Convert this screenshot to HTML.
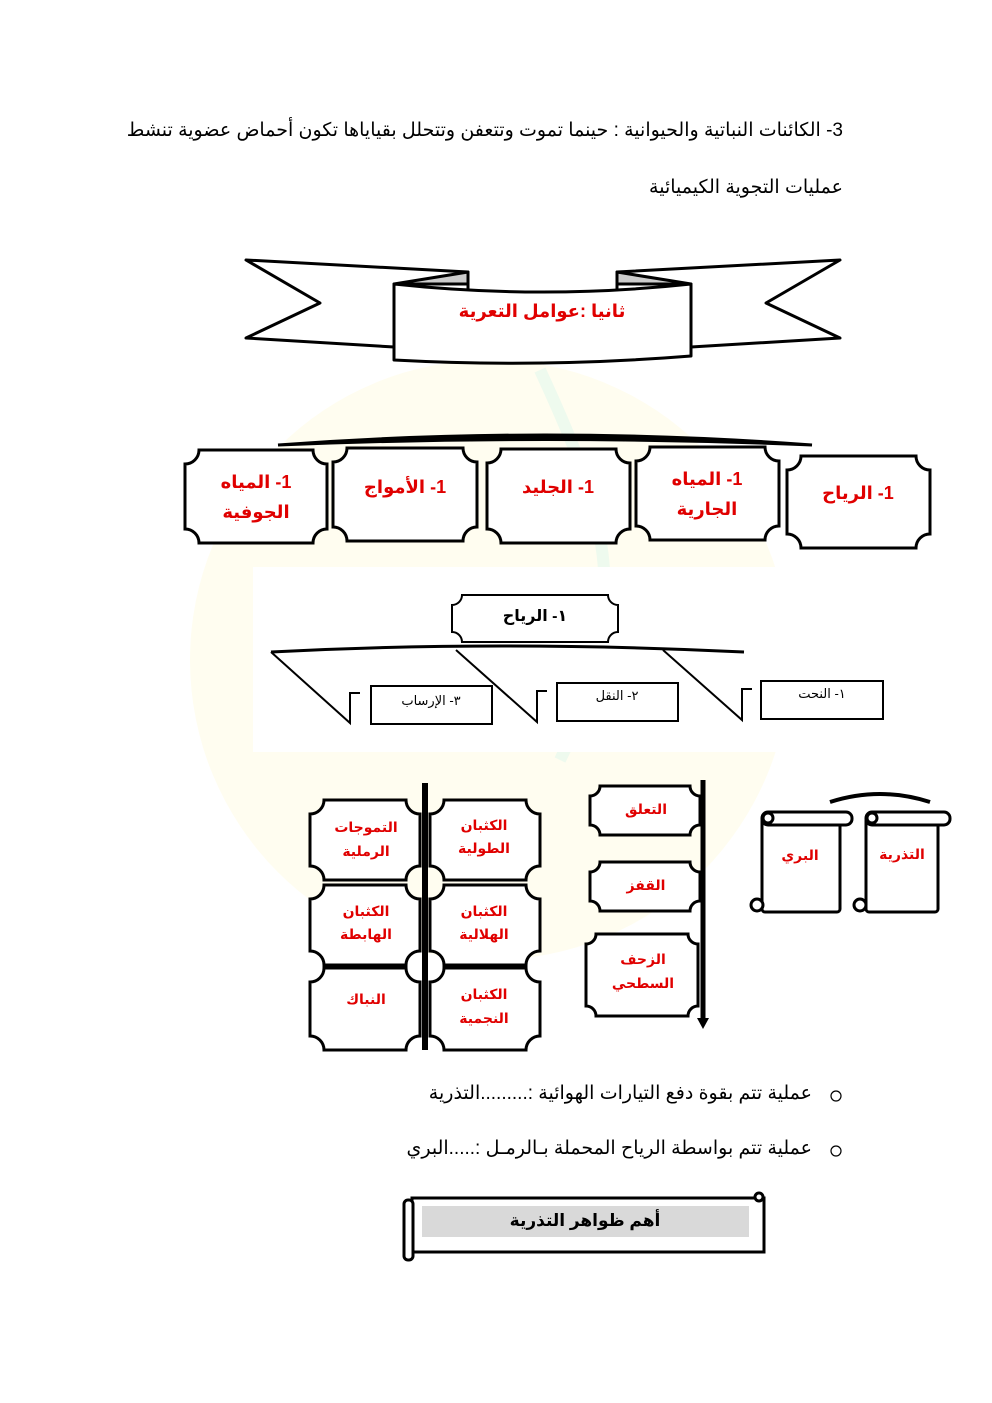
<!DOCTYPE html>
<html><head><meta charset="utf-8"><style>
html,body{margin:0;padding:0;background:#fff;}
body{width:992px;height:1403px;position:relative;overflow:hidden;font-family:"Liberation Sans","DejaVu Sans",sans-serif;}
svg{position:absolute;left:0;top:0;}
.t{position:absolute;direction:rtl;text-align:right;white-space:nowrap;font-size:19px;color:#000;line-height:24px;}
</style></head><body>
<svg width="992" height="1403" viewBox="0 0 992 1403" xmlns="http://www.w3.org/2000/svg" font-family="Liberation Sans, DejaVu Sans, sans-serif">
<circle cx="490" cy="660" r="300" fill="#fffdf0"/>
<path d="M540 370 C600 500 640 600 560 760" stroke="#eefaee" stroke-width="12" fill="none"/>

<g stroke="#000" stroke-width="3" fill="#fff" stroke-linejoin="round">
<path d="M246 260 L468 272 L468 290 L394 290 L394 347 L246 338 L320 303 Z"/>
<path d="M840 260 L617 272 L617 290 L691 290 L691 347 L840 338 L766 303 Z"/>
<path d="M468 272 L468 284 L394 284 Z" fill="#ccc"/>
<path d="M617 272 L617 284 L691 284 Z" fill="#ccc"/>
<path d="M394 284 Q542 300 691 284 L691 356 Q542 368 394 360 Z"/>
</g>
<text x="542" y="317" text-anchor="middle" font-size="18" font-weight="bold" fill="#e00000" direction="rtl">ثانيا :عوامل التعرية</text>

<path d="M278 445 Q545 425 812 445 Q545 434 278 445 Z" stroke="#000" stroke-width="3" fill="#000"/>
<g stroke="#000" stroke-width="3" fill="#fff">
<path d="M199,450 H313 A14 14 0 0 0 327,464 V529 A14 14 0 0 0 313,543 H199 A14 14 0 0 0 185,529 V464 A14 14 0 0 0 199,450 Z"/>
<path d="M347,448 H463 A14 14 0 0 0 477,462 V527 A14 14 0 0 0 463,541 H347 A14 14 0 0 0 333,527 V462 A14 14 0 0 0 347,448 Z"/>
<path d="M501,449 H616 A14 14 0 0 0 630,463 V529 A14 14 0 0 0 616,543 H501 A14 14 0 0 0 487,529 V463 A14 14 0 0 0 501,449 Z"/>
<path d="M650,447 H765 A14 14 0 0 0 779,461 V526 A14 14 0 0 0 765,540 H650 A14 14 0 0 0 636,526 V461 A14 14 0 0 0 650,447 Z"/>
<path d="M801,456 H916 A14 14 0 0 0 930,470 V534 A14 14 0 0 0 916,548 H801 A14 14 0 0 0 787,534 V470 A14 14 0 0 0 801,456 Z"/>
</g>
<g font-size="18" font-weight="bold" fill="#e00000" text-anchor="middle" direction="rtl">
<text x="256" y="488">1- المياه</text><text x="256" y="518">الجوفية</text>
<text x="405" y="493">1- الأمواج</text>
<text x="558" y="493">1- الجليد</text>
<text x="707" y="485">1- المياه</text><text x="707" y="515">الجارية</text>
<text x="858" y="499">1- الرياح</text>
</g>

<rect x="253" y="567" width="537" height="185" fill="#fff"/>
<g stroke="#000" stroke-width="2" fill="#fff">
<path d="M462,595 H608 A10 10 0 0 0 618,605 V632 A10 10 0 0 0 608,642 H462 A10 10 0 0 0 452,632 V605 A10 10 0 0 0 462,595 Z"/>
<path d="M271 652 Q500 640 744 652" fill="none" stroke-width="3"/>
<path d="M271 652 L350 723 L350 693 L360 693" fill="none"/>
<path d="M456 650 L537 722 L537 691 L547 691" fill="none"/>
<path d="M663 650 L742 720 L742 689 L752 689" fill="none"/>
<rect x="371" y="686" width="121" height="38"/>
<rect x="557" y="683" width="121" height="38"/>
<rect x="761" y="681" width="122" height="38"/>
</g>
<text x="535" y="621" font-weight="bold" text-anchor="middle" font-size="16" direction="rtl">١- الرياح</text>
<g text-anchor="middle" font-size="13" direction="rtl">
<text x="431" y="705">٣- الإرساب</text>
<text x="617" y="700">٢- النقل</text>
<text x="822" y="698">١- النحت</text>
</g>

<g stroke="#000" stroke-width="3" fill="#fff">
<path d="M324,800 H406 A14 14 0 0 0 420,814 V866 A14 14 0 0 0 406,880 H324 A14 14 0 0 0 310,866 V814 A14 14 0 0 0 324,800 Z"/>
<path d="M324,885 H406 A14 14 0 0 0 420,899 V951 A14 14 0 0 0 406,965 H324 A14 14 0 0 0 310,951 V899 A14 14 0 0 0 324,885 Z"/>
<path d="M324,968 H406 A14 14 0 0 0 420,982 V1036 A14 14 0 0 0 406,1050 H324 A14 14 0 0 0 310,1036 V982 A14 14 0 0 0 324,968 Z"/>
<path d="M444,800 H526 A14 14 0 0 0 540,814 V866 A14 14 0 0 0 526,880 H444 A14 14 0 0 0 430,866 V814 A14 14 0 0 0 444,800 Z"/>
<path d="M444,885 H526 A14 14 0 0 0 540,899 V951 A14 14 0 0 0 526,965 H444 A14 14 0 0 0 430,951 V899 A14 14 0 0 0 444,885 Z"/>
<path d="M444,968 H526 A14 14 0 0 0 540,982 V1036 A14 14 0 0 0 526,1050 H444 A14 14 0 0 0 430,1036 V982 A14 14 0 0 0 444,968 Z"/>
</g>
<line x1="425" y1="783" x2="425" y2="1050" stroke="#000" stroke-width="6"/>
<g font-size="14" font-weight="bold" fill="#e00000" text-anchor="middle">
<text x="366" y="832">التموجات</text><text x="366" y="856">الرملية</text>
<text x="484" y="830">الكثبان</text><text x="484" y="853">الطولية</text>
<text x="366" y="916">الكثبان</text><text x="366" y="939">الهابطة</text>
<text x="484" y="916">الكثبان</text><text x="484" y="939">الهلالية</text>
<text x="366" y="1004">النباك</text>
<text x="484" y="999">الكثبان</text><text x="484" y="1023">النجمية</text>
</g>

<g stroke="#000" stroke-width="3" fill="#fff">
<path d="M600,786 H690 A10 10 0 0 0 700,796 V825 A10 10 0 0 0 690,835 H600 A10 10 0 0 0 590,825 V796 A10 10 0 0 0 600,786 Z"/>
<path d="M600,862 H690 A10 10 0 0 0 700,872 V901 A10 10 0 0 0 690,911 H600 A10 10 0 0 0 590,901 V872 A10 10 0 0 0 600,862 Z"/>
<path d="M596,934 H688 A10 10 0 0 0 698,944 V1006 A10 10 0 0 0 688,1016 H596 A10 10 0 0 0 586,1006 V944 A10 10 0 0 0 596,934 Z"/>
</g>
<line x1="703" y1="780" x2="703" y2="1020" stroke="#000" stroke-width="5"/>
<path d="M697 1018 L709 1018 L703 1029 Z" fill="#000"/>
<g font-size="14" font-weight="bold" fill="#e00000" text-anchor="middle">
<text x="646" y="814">التعلق</text>
<text x="646" y="890">القفز</text>
<text x="643" y="964">الزحف</text><text x="643" y="988">السطحي</text>
</g>

<path d="M830 802 Q880 786 930 802" stroke="#000" stroke-width="4" fill="none"/>
<g stroke="#000" stroke-width="3" fill="#fff">
<rect x="762" y="818" width="78" height="94" rx="3"/>
<rect x="762" y="812" width="90" height="13" rx="6"/>
<circle cx="768" cy="818" r="5"/>
<circle cx="757" cy="905" r="6"/>
<rect x="866" y="818" width="72" height="94" rx="3"/>
<rect x="866" y="812" width="84" height="13" rx="6"/>
<circle cx="872" cy="818" r="5"/>
<circle cx="860" cy="905" r="6"/>
</g>
<g font-size="14" font-weight="bold" fill="#e00000" text-anchor="middle">
<text x="800" y="860">البري</text>
<text x="902" y="859">التذرية</text>
</g>

<circle cx="836" cy="1096" r="5" stroke="#000" stroke-width="1.2" fill="none"/>
<circle cx="836" cy="1151" r="5" stroke="#000" stroke-width="1.2" fill="none"/>

<g stroke="#000" stroke-width="3" fill="#fff">
<rect x="412" y="1198" width="352" height="54"/>
<rect x="404" y="1200" width="9" height="60" rx="4"/>
<circle cx="759" cy="1197" r="4"/>
</g>
<rect x="422" y="1206" width="327" height="31" fill="#d9d9d9"/>
<text x="585" y="1226" text-anchor="middle" font-size="17" font-weight="bold" direction="rtl">أهم ظواهر التذرية</text>
</svg>

<div class="t" style="right:149px;top:119px;">3- الكائنات النباتية والحيوانية : حينما تموت وتتعفن وتتحلل بقياياها تكون أحماض عضوية تنشط</div>
<div class="t" style="right:149px;top:176px;">عمليات التجوية الكيميائية</div>
<div class="t" style="right:180px;top:1082px;">عملية تتم بقوة دفع التيارات الهوائية :.........التذرية</div>
<div class="t" style="right:180px;top:1137px;">عملية تتم بواسطة الرياح المحملة بـالرمـل :.....البري</div>
</body></html>
